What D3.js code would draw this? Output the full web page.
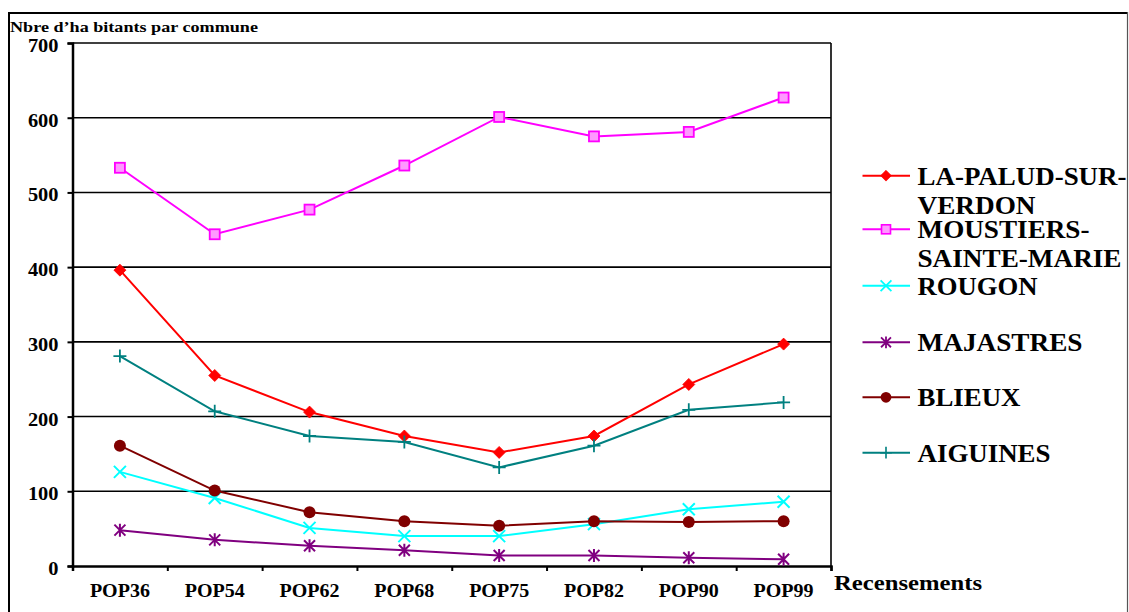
<!DOCTYPE html>
<html>
<head>
<meta charset="utf-8">
<script src="https://cdn.jsdelivr.net/npm/d3@7"></script>
<style>
  html, body { margin: 0; padding: 0; background: #fff; }
  svg { display: block; }
</style>
</head>
<body>
<svg id="chart" width="1129" height="612"></svg>
<script>
// ---- data ----
const categories = ["POP36", "POP54", "POP62", "POP68", "POP75", "POP82", "POP90", "POP99"];
const seriesNames = ["LA-PALUD-SUR-VERDON", "MOUSTIERS-SAINTE-MARIE", "ROUGON", "MAJASTRES", "BLIEUX", "AIGUINES"];
const laPalud    = [396, 255, 206, 174, 152, 174, 243, 297];
const moustiers  = [533, 444, 477, 536, 601, 575, 581, 627];
const rougon     = [126, 91, 51, 40, 40, 56, 76, 86];
const majastres  = [48, 35, 27, 21, 14, 14, 11, 9];
const blieux     = [161, 101, 72, 60, 54, 60, 59, 60];
const aiguines   = [281, 207, 174, 166, 132, 161, 209, 219];
const yTicks = [0, 100, 200, 300, 400, 500, 600, 700];
const legendLines = [["LA-PALUD-SUR-", "VERDON"], ["MOUSTIERS-", "SAINTE-MARIE"], ["ROUGON"], ["MAJASTRES"], ["BLIEUX"], ["AIGUINES"]];
const yTitle = "Nbre d\u2019ha bitants par commune";
const xTitle = "Recensements";

// ---- styles / layout ----
const colors = ["#ff0000", "#ff00ff", "#00ffff", "#800080", "#800000", "#008080"];
const markers = ["diamond", "square", "x", "asterisk", "circle", "plus"];
const values = [laPalud, moustiers, rougon, majastres, blieux, aiguines];
const legendWidths = [[209, 118], [172, 204], [120], [165], [103], [133]];
const FONT = "Liberation Serif";

const svg = d3.select("#chart");
const plot = { left: 72.5, right: 831, top: 43, bottom: 566 };

const x = d3.scaleBand().domain(categories).range([plot.left, plot.right]).padding(0);
const xc = d => x(d) + x.bandwidth() / 2;
const y = d3.scaleLinear().domain([0, 700]).range([plot.bottom, plot.top]);

function styleText(sel, size) {
  return sel.style("font-family", FONT).style("font-weight", "bold").style("font-size", size + "px").style("fill", "#000");
}

// outer frame
svg.append("line").attr("x1", 8).attr("x2", 1128).attr("y1", 13).attr("y2", 13).attr("stroke", "#000").attr("stroke-width", 2);
svg.append("line").attr("x1", 9).attr("x2", 9).attr("y1", 12).attr("y2", 612).attr("stroke", "#000").attr("stroke-width", 2);

// gridlines
svg.append("g").selectAll("line").data(yTicks.filter(t => t > 0)).join("line")
  .attr("x1", plot.left).attr("x2", plot.right)
  .attr("y1", d => y(d)).attr("y2", d => y(d))
  .attr("stroke", "#000").attr("stroke-width", 1.6);

// right border of plot
svg.append("line").attr("x1", plot.right).attr("x2", plot.right).attr("y1", plot.top).attr("y2", plot.bottom)
  .attr("stroke", "#000").attr("stroke-width", 1.6);

// y axis
const yAxis = svg.append("g").attr("transform", `translate(${plot.left},0)`)
  .call(d3.axisLeft(y).tickValues(yTicks).tickSize(5).tickFormat(d3.format("d")));
yAxis.select(".domain").attr("stroke", "#000").attr("stroke-width", 2.5);
yAxis.selectAll(".tick line").attr("stroke", "#000").attr("stroke-width", 2);
styleText(yAxis.selectAll(".tick text"), 18)
  .attr("x", -14).attr("dy", null).attr("y", 8.5)
  .attr("text-anchor", "end")
  .attr("textLength", d => String(d).length * 10.2)
  .attr("lengthAdjust", "spacingAndGlyphs");

// x axis: ticks at band boundaries
const xi = d3.scaleLinear().domain([0, categories.length]).range([plot.left, plot.right]);
const xAxis = svg.append("g").attr("transform", `translate(0,${plot.bottom})`)
  .call(d3.axisBottom(xi).tickValues(d3.range(categories.length + 1)).tickSize(5).tickFormat(""));
xAxis.select(".domain").attr("stroke", "#000").attr("stroke-width", 2.5);
xAxis.selectAll(".tick line").attr("stroke", "#000").attr("stroke-width", 2);

// x labels
styleText(svg.append("g").selectAll("text").data(categories).join("text"), 18.5)
  .attr("x", d => xc(d) - 30).attr("y", plot.bottom + 30.7)
  .attr("textLength", 60).attr("lengthAdjust", "spacingAndGlyphs")
  .text(d => d);

// titles
styleText(svg.append("text"), 15).attr("x", 10).attr("y", 32)
  .attr("textLength", 248).attr("lengthAdjust", "spacingAndGlyphs").text(yTitle);
styleText(svg.append("text"), 21).attr("x", 834).attr("y", 590)
  .attr("textLength", 148).attr("lengthAdjust", "spacingAndGlyphs").text(xTitle);

// marker drawing
function drawMarker(g, type, color) {
  switch (type) {
    case "diamond":
      g.append("path").attr("d", "M0,-6 L6,0 L0,6 L-6,0 Z").attr("fill", color).attr("stroke", color).attr("stroke-width", 0.8);
      break;
    case "square":
      g.append("rect").attr("x", -5).attr("y", -5).attr("width", 10).attr("height", 10)
        .attr("fill", "#ff99ff").attr("stroke", color).attr("stroke-width", 1.8);
      break;
    case "x":
      g.append("path").attr("d", "M-6,-6 L6,6 M-6,6 L6,-6").attr("stroke", color).attr("stroke-width", 2).attr("fill", "none");
      break;
    case "asterisk":
      g.append("path").attr("d", "M-5.5,-5.5 L5.5,5.5 M-5.5,5.5 L5.5,-5.5 M0,-6.5 L0,6.5").attr("stroke", color).attr("stroke-width", 2).attr("fill", "none");
      break;
    case "circle":
      g.append("circle").attr("r", 6).attr("fill", color);
      break;
    case "plus":
      g.append("path").attr("d", "M-6.5,0 L6.5,0 M0,-6.5 L0,6.5").attr("stroke", color).attr("stroke-width", 1.8).attr("fill", "none");
      break;
  }
}

// series
const line = d3.line().x((d, i) => xc(categories[i])).y(d => y(d));
values.forEach((vals, s) => {
  const g = svg.append("g");
  g.append("path").datum(vals).attr("d", line).attr("fill", "none")
    .attr("stroke", colors[s]).attr("stroke-width", 2);
  vals.forEach((v, i) => {
    const mg = g.append("g").attr("transform", `translate(${xc(categories[i])},${y(v)})`);
    drawMarker(mg, markers[s], colors[s]);
  });
});

// legend
const legendY = [175.7, 229.3, 285.7, 342.3, 397.3, 452.7];
const lg = svg.append("g");
seriesNames.forEach((name, s) => {
  const row = lg.append("g").attr("transform", `translate(0,${legendY[s]})`);
  row.append("line").attr("x1", 862.5).attr("x2", 910).attr("y1", 0).attr("y2", 0)
    .attr("stroke", colors[s]).attr("stroke-width", 2);
  const mg = row.append("g").attr("transform", "translate(886,0) scale(0.9)");
  drawMarker(mg, markers[s], colors[s]);
  legendLines[s].forEach((t, k) => {
    styleText(row.append("text"), 24.5)
      .attr("x", 917.5).attr("y", 9 + k * 29)
      .attr("textLength", legendWidths[s][k]).attr("lengthAdjust", "spacingAndGlyphs")
      .text(t);
  });
});

// mask overflow at the right edge and draw the right frame line
svg.append("rect").attr("x", 1128).attr("y", 0).attr("width", 10).attr("height", 612).attr("fill", "#fff");
svg.append("line").attr("x1", 1127.5).attr("x2", 1127.5).attr("y1", 12).attr("y2", 612).attr("stroke", "#555").attr("stroke-width", 1.2);
</script>
</body>
</html>
